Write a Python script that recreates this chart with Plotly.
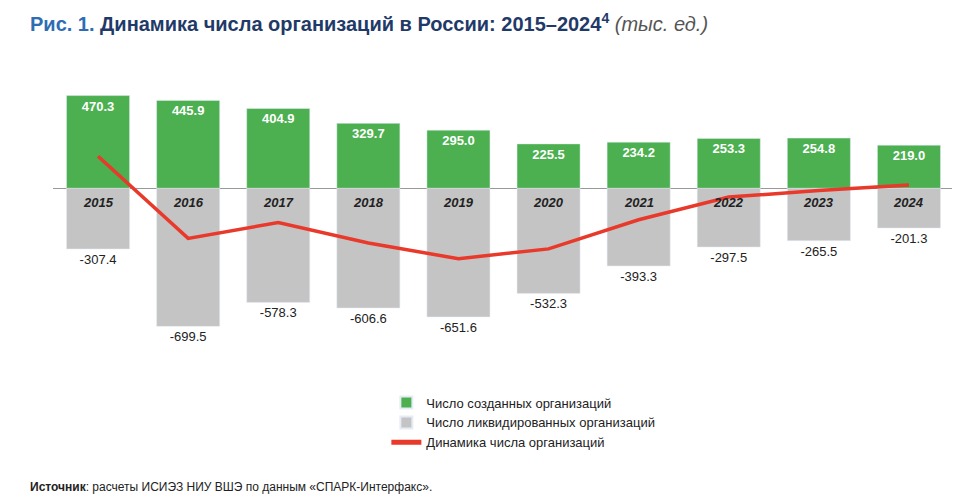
import plotly.graph_objects as go

years = ["2015","2016","2017","2018","2019","2020","2021","2022","2023","2024"]
created = [470.3,445.9,404.9,329.7,295.0,225.5,234.2,253.3,254.8,219.0]
liquidated = [-307.4,-699.5,-578.3,-606.6,-651.6,-532.3,-393.3,-297.5,-265.5,-201.3]
net = [162.9,-253.6,-173.4,-276.9,-356.6,-306.8,-159.1,-44.2,-10.7,17.7]

fig = go.Figure()
fig.add_bar(x=years, y=created, name="Число созданных организаций", marker_color="#4caf50",
            width=0.7, text=[f"<b>{v:.1f}</b>" for v in created], textposition="inside",
            insidetextanchor="end", textangle=0, textfont=dict(color="white", size=13, family="Arial"))
fig.add_bar(x=years, y=liquidated, name="Число ликвидированных организаций", marker_color="#c4c4c4",
            width=0.7, text=[f"{v:.1f}" for v in liquidated], textposition="outside", textangle=0,
            textfont=dict(color="#222", size=13, family="Arial"), cliponaxis=False)
fig.add_scatter(x=years, y=net, name="Динамика числа организаций", mode="lines",
                line=dict(color="#e8392a", width=3.5))

for i, y in enumerate(years):
    fig.add_annotation(x=i, y=0, yshift=-14, text=f"<b><i>{y}</i></b>", showarrow=False,
                       font=dict(size=13, color="#222", family="Arial"))

fig.add_annotation(xref="paper", yref="paper", x=-0.028, y=1.0, yshift=62, xanchor="left",
                   showarrow=False, font=dict(size=20, family="Arial", color="#1f3a68"),
                   text="<b><span style='color:#2e6db4'>Рис. 1.</span> Динамика числа организаций в России: 2015–2024<sup>4</sup></b> <i><span style='color:#555'>(тыс. ед.)</span></i>")
fig.add_annotation(xref="paper", yref="paper", x=-0.028, y=-0.47, xanchor="left", showarrow=False,
                   font=dict(size=12, family="Arial", color="#222"),
                   text="<b>Источник</b>: расчеты ИСИЭЗ НИУ ВШЭ по данным «СПАРК-Интерфакс».")

fig.update_layout(
    width=960, height=501, barmode="relative", bargap=0.3,
    margin=dict(l=45, r=14, t=62, b=149),
    plot_bgcolor="white", paper_bgcolor="white",
    xaxis=dict(type="category", range=[-0.5, 9.5], showticklabels=False, showgrid=False,
               zeroline=False, showline=False),
    yaxis=dict(range=[-870, 600], showticklabels=False, showgrid=False, zeroline=True,
               zerolinecolor="#999", zerolinewidth=1),
    legend=dict(x=0.37, y=-0.095, xanchor="left", yanchor="top", font=dict(size=13, family="Arial", color="#222"),
                traceorder="normal", tracegroupgap=0, itemwidth=30, itemsizing="constant"),
    showlegend=True,
)
fig.write_html("out.html")
